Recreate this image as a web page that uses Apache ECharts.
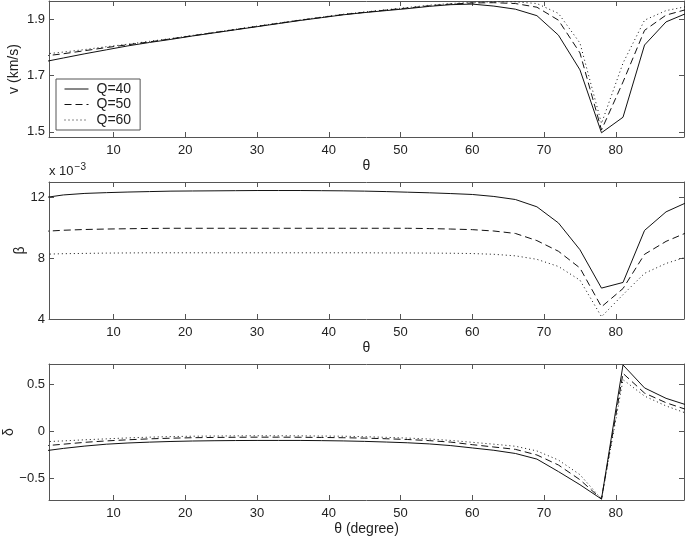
<!DOCTYPE html>
<html>
<head>
<meta charset="utf-8">
<script src="https://cdn.jsdelivr.net/npm/echarts@6/dist/echarts.min.js"></script>
<style>html,body{margin:0;padding:0;background:#fff;}#c{width:685px;height:539px;}</style>
</head>
<body>
<div id="c"></div>
<script>
const theta = [0,3,6,9,12,15,18,21,24,27,30,33,36,39,42,45,48,51,54,57,60,63,66,69,72,75,78,81,84,87,90];
const seriesNames = ['Q=40','Q=50','Q=60'];

const v40 = [1.747,1.762,1.777,1.791,1.805,1.817,1.828,1.840,1.851,1.862,1.873,1.884,1.895,1.905,1.915,1.923,1.930,1.937,1.945,1.951,1.953,1.946,1.935,1.912,1.843,1.720,1.497,1.552,1.808,1.890,1.922];
const v50 = [1.768,1.777,1.788,1.799,1.809,1.819,1.830,1.841,1.852,1.863,1.874,1.885,1.896,1.906,1.916,1.924,1.932,1.939,1.947,1.953,1.957,1.958,1.955,1.942,1.896,1.780,1.507,1.677,1.860,1.914,1.935];
const v60 = [1.775,1.783,1.792,1.802,1.811,1.821,1.831,1.842,1.853,1.864,1.875,1.886,1.897,1.907,1.917,1.925,1.933,1.941,1.949,1.955,1.959,1.961,1.961,1.955,1.920,1.815,1.530,1.744,1.896,1.930,1.945];

const beta40 = [11.95,12.15,12.25,12.30,12.34,12.37,12.40,12.41,12.42,12.43,12.44,12.44,12.44,12.43,12.42,12.40,12.37,12.33,12.29,12.24,12.18,12.05,11.85,11.37,10.31,8.55,6.03,6.40,9.82,11.04,11.68];
const beta50 = [9.75,9.83,9.88,9.91,9.93,9.95,9.96,9.96,9.96,9.96,9.96,9.96,9.96,9.96,9.96,9.96,9.96,9.96,9.94,9.91,9.87,9.78,9.62,9.15,8.45,7.35,4.80,6.00,8.25,9.10,9.70];
const beta60 = [8.25,8.29,8.31,8.33,8.34,8.35,8.35,8.35,8.35,8.35,8.35,8.35,8.35,8.35,8.35,8.35,8.34,8.34,8.33,8.32,8.30,8.25,8.15,7.92,7.45,6.55,4.15,5.60,7.00,7.65,8.10];

const delta40 = [-0.21,-0.18,-0.155,-0.135,-0.122,-0.113,-0.106,-0.101,-0.098,-0.096,-0.095,-0.095,-0.095,-0.097,-0.100,-0.105,-0.112,-0.120,-0.132,-0.150,-0.175,-0.200,-0.234,-0.294,-0.427,-0.567,-0.720,0.710,0.465,0.354,0.280];
const delta50 = [-0.155,-0.135,-0.115,-0.100,-0.088,-0.078,-0.071,-0.066,-0.063,-0.061,-0.060,-0.060,-0.061,-0.063,-0.066,-0.070,-0.077,-0.085,-0.097,-0.113,-0.140,-0.165,-0.190,-0.250,-0.357,-0.514,-0.720,0.620,0.410,0.307,0.230];
const delta60 = [-0.110,-0.100,-0.088,-0.078,-0.068,-0.060,-0.054,-0.050,-0.048,-0.046,-0.045,-0.045,-0.046,-0.048,-0.050,-0.055,-0.062,-0.070,-0.080,-0.095,-0.115,-0.135,-0.157,-0.207,-0.304,-0.460,-0.720,0.553,0.378,0.273,0.190];

const xTicks = [10,20,30,40,50,60,70,80];
const vTicks = [1.5,1.7,1.9];
const betaTicks = [4,8,12];
const deltaTicks = [-0.5,0,0.5];

const FONT = '"Liberation Sans", Arial, Helvetica, sans-serif';
const AX = '#555';
const LINE = '#111';
const styles = ['solid',[7,4],[1,3]];

const grids = [
  {left:49, top:1, width:635, height:136, outerBoundsMode:'none', containLabel:false},
  {left:49, top:182, width:635, height:137, outerBoundsMode:'none', containLabel:false},
  {left:49, top:364, width:635, height:136, outerBoundsMode:'none', containLabel:false}
];
const yRanges = [[1.482,1.964],[4,13],[-0.73,0.72]];
const yTickSets = [vTicks, betaTicks, deltaTicks];
const yNames = ['v (km/s)','β','δ'];
const yNameGaps = [28,22,33];
const xNames = ['θ','θ','θ (degree)'];

const fmt = v => String(v).replace('-', '\u2212');

const xAxes = [], yAxes = [];
grids.forEach((g,i)=>{
  xAxes.push({
    type:'value', gridIndex:i, position:'bottom', min:1, max:89.5,
    name:xNames[i], nameLocation:'middle', nameGap:22, nameMoveOverlap:false,
    nameTextStyle:{fontFamily:FONT, fontSize:14, color:'#222'},
    axisLine:{show:true, onZero:false, lineStyle:{color:AX, width:1}},
    axisTick:{show:true, inside:true, length:5, customValues:xTicks, lineStyle:{color:AX}},
    axisLabel:{show:true, customValues:xTicks, margin:7, fontFamily:FONT, fontSize:13, color:'#222', formatter:fmt},
    splitLine:{show:false}
  });
  xAxes.push({
    type:'value', gridIndex:i, position:'top', min:1, max:89.5,
    axisLine:{show:true, onZero:false, lineStyle:{color:AX, width:1}},
    axisTick:{show:true, inside:true, length:5, customValues:xTicks, lineStyle:{color:AX}},
    axisLabel:{show:false},
    splitLine:{show:false}
  });
  yAxes.push({
    type:'value', gridIndex:i, position:'left', min:yRanges[i][0], max:yRanges[i][1],
    name:yNames[i], nameLocation:'middle', nameGap:yNameGaps[i], nameRotate:90, nameMoveOverlap:false,
    nameTextStyle:{fontFamily:FONT, fontSize:14, color:'#222'},
    axisLine:{show:true, onZero:false, lineStyle:{color:AX, width:1}},
    axisTick:{show:true, inside:true, length:5, customValues:yTickSets[i], lineStyle:{color:AX}},
    axisLabel:{show:true, customValues:yTickSets[i], margin:4, fontFamily:FONT, fontSize:13, color:'#222', formatter:fmt},
    splitLine:{show:false}
  });
  yAxes.push({
    type:'value', gridIndex:i, position:'right', min:yRanges[i][0], max:yRanges[i][1],
    axisLine:{show:true, onZero:false, lineStyle:{color:AX, width:1}},
    axisTick:{show:true, inside:true, length:5, customValues:yTickSets[i], lineStyle:{color:AX}},
    axisLabel:{show:false},
    splitLine:{show:false}
  });
});

const panels = [[v40,v50,v60],[beta40,beta50,beta60],[delta40,delta50,delta60]];
const series = [];
panels.forEach((arrs,p)=>{
  arrs.forEach((arr,k)=>{
    series.push({
      type:'line', name:seriesNames[k],
      xAxisIndex:p*2, yAxisIndex:p*2,
      data: theta.map((t,j)=>[t, arr[j]]),
      symbol:'none', showSymbol:false, clip:true, silent:true, animation:false,
      lineStyle:{color:LINE, width:1, type:styles[k]},
      itemStyle:{color:LINE},
      z: 3-k
    });
  });
});

const chart = echarts.init(document.getElementById('c'), null, {renderer:'canvas'});
chart.setOption({
  backgroundColor:'#fff',
  animation:false,
  grid:grids,
  xAxis:xAxes,
  yAxis:yAxes,
  legend:{
    data:seriesNames, orient:'vertical', left:56, top:79,
    itemWidth:24, itemHeight:14, itemGap:1.5,
    padding:[3,9,3,8],
    backgroundColor:'#fff', borderColor:AX, borderWidth:1, borderRadius:0,
    selectedMode:false,
    itemStyle:{opacity:0},
    textStyle:{fontFamily:FONT, fontSize:14, color:'#222', padding:[0,0,0,3]},
    lineStyle:{width:1}
  },
  graphic:[{
    type:'text', left:49, top:162,
    style:{
      text:'x 10{sup|\u22123}', fontFamily:FONT, fontSize:13, fill:'#222',
      rich:{sup:{fontFamily:FONT, fontSize:10, fill:'#222', verticalAlign:'top', padding:[0,0,8,1]}}
    }
  }],
  series:series
});
</script>
</body>
</html>
